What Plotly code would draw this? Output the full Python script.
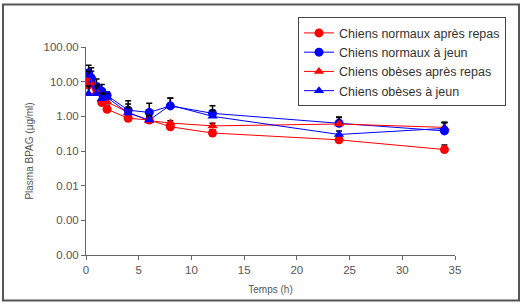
import plotly.graph_objects as go

times = [0.25, 0.5, 1, 1.5, 2, 4, 6, 8, 12, 24, 34]

normal_fed = [8.0, 10.0, 6.0, 2.5, 1.6, 0.88, 0.78, 0.5, 0.33, 0.21, 0.11]
normal_fed_err = [6.0, 5.0, 3.0, 1.0, 0.5, 0.3, 0.2, 0.12, 0.08, 0.05, 0.04]

normal_fast = [18.0, 12.0, 7.0, 5.3, 4.0, 1.5, 1.3, 2.0, 1.22, 0.63, 0.38]
normal_fast_err = [12.0, 8.0, 5.0, 3.0, 1.0, 1.3, 1.1, 1.4, 0.8, 0.3, 0.28]

obese_fed = [12.0, 9.0, 5.0, 3.0, 2.6, 1.3, 0.75, 0.64, 0.53, 0.6, 0.48]
obese_fed_err = [8.0, 5.0, 3.0, 1.5, 0.8, 0.5, 0.2, 0.1, 0.1, 0.35, 0.2]

obese_fast = [4.5, 15.0, 4.5, 3.2, 3.5, 1.25, 0.78, 2.1, 1.0, 0.3, 0.45]
obese_fast_err = [3.0, 10.0, 3.0, 1.5, 1.0, 1.0, 0.3, 1.2, 0.5, 0.08, 0.2]

names = ["Chiens normaux après repas", "Chiens normaux à jeun",
         "Chiens obèses après repas", "Chiens obèses à jeun"]
series = [normal_fed, normal_fast, obese_fed, obese_fast]
errors = [normal_fed_err, normal_fast_err, obese_fed_err, obese_fast_err]
colors = ["#FF0000", "#0000FF", "#FF0000", "#0000FF"]
symbols = ["circle", "circle", "triangle-up", "triangle-up"]

y_tickvals = [1e-4, 1e-3, 1e-2, 1e-1, 1, 10, 100]
y_ticktext = ["0.00", "0.00", "0.01", "0.10", "1.00", "10.00", "100.00"]

fig = go.Figure()
for name, ys, err, c, s in zip(names, series, errors, colors, symbols):
    fig.add_trace(go.Scatter(
        x=times, y=ys, name=name, mode="lines+markers",
        line=dict(color=c, width=1),
        marker=dict(color=c, symbol=s, size=9),
        error_y=dict(type="data", symmetric=False, array=err,
                     arrayminus=[0] * len(err), color="#000000",
                     thickness=1.5, width=3),
    ))

W, H = 523, 306
L, R, T, B = 86, 68, 47, 49
pw, ph = W - L - R, H - T - B

def px(x):
    return (x - L) / pw

def py(y):
    return (H - B - y) / ph

fig.update_layout(
    width=W, height=H,
    margin=dict(l=L, r=R, t=T, b=B),
    paper_bgcolor="white", plot_bgcolor="white",
    font=dict(family="Liberation Sans, Arial, sans-serif", color="#555555", size=11.5),
    showlegend=True,
    legend=dict(
        x=px(298), y=py(17), xanchor="left", yanchor="top",
        bordercolor="#444444", borderwidth=1, bgcolor="white",
        font=dict(size=12.5, color="#333333"),
        tracegroupgap=0, itemwidth=30,
    ),
    xaxis=dict(
        range=[0, 35], dtick=5, tick0=0, showgrid=False, zeroline=False,
        showline=True, linecolor="#666666", linewidth=1,
        ticks="outside", ticklen=4, tickcolor="#666666",
        title=dict(text="Temps (h)", font=dict(size=10), standoff=11),
    ),
    yaxis=dict(
        type="log", range=[-4, 2], tickvals=y_tickvals, ticktext=y_ticktext,
        showgrid=False, zeroline=False,
        showline=True, linecolor="#666666", linewidth=1,
        ticks="outside", ticklen=4, tickcolor="#666666",
        title=dict(text="Plasma BPAG (µg/ml)", font=dict(size=10), standoff=8),
    ),
    shapes=[dict(type="rect", xref="paper", yref="paper",
                 x0=px(3), x1=px(519), y0=py(303), y1=py(4),
                 line=dict(color="#555555", width=2), layer="below")],
)

fig.write_html("out.html")
